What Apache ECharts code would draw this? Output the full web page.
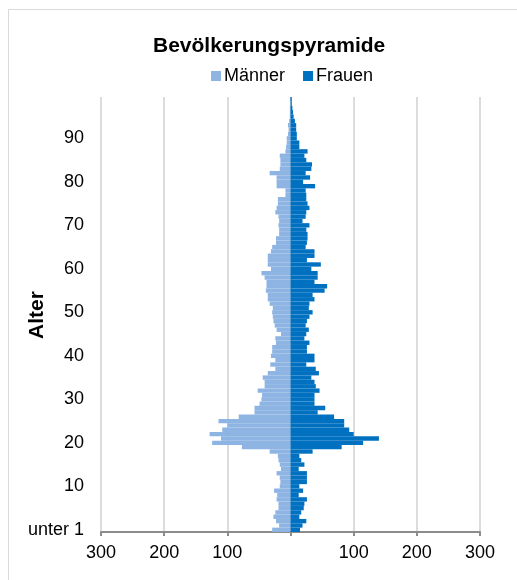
<!DOCTYPE html>
<html lang="de">
<head>
    <meta charset="UTF-8">
    <title>Bevölkerungspyramide</title>
    <script src="https://cdn.jsdelivr.net/npm/echarts@6/dist/echarts.min.js"></script>
    <style>
        html, body { margin: 0; padding: 0; background: #fff; }
        #chart { width: 517px; height: 580px; }
    </style>
</head>
<body>
<div id="chart"></div>
<script>
    // Alter 0..99 (Index = Alter)
    var maenner = [29, 18, 23, 27, 24, 19, 19, 22, 21, 26,
                   17, 16, 17, 22, 15, 17, 19, 20, 33, 77,
                   124, 110, 128, 108, 100, 114, 82, 57, 57, 49,
                   46, 45, 52, 41, 41, 44, 36, 24, 32, 24,
                   31, 29, 29, 23, 24, 15, 22, 25, 27, 28,
                   29, 28, 33, 36, 36, 39, 38, 38, 41, 46,
                   31, 36, 36, 36, 31, 29, 23, 23, 18, 18,
                   19, 18, 19, 24, 22, 20, 20, 8, 8, 22,
                   22, 22, 33, 17, 16, 16, 17, 8, 7, 6,
                   6, 4, 3, 4, 2, 1, 1, 1, 0, 1];
    var frauen = [15, 19, 25, 14, 17, 21, 22, 26, 13, 20,
                  14, 26, 26, 26, 13, 22, 17, 14, 35, 81,
                  115, 140, 100, 93, 85, 85, 69, 43, 55, 38,
                  38, 38, 46, 40, 38, 33, 45, 40, 25, 38,
                  38, 26, 26, 30, 22, 25, 29, 24, 26, 30,
                  35, 29, 30, 38, 35, 54, 58, 38, 43, 43,
                  33, 48, 26, 38, 38, 24, 26, 27, 27, 25,
                  30, 19, 24, 25, 30, 27, 25, 25, 24, 39,
                  20, 31, 24, 33, 34, 25, 22, 27, 14, 14,
                  10, 10, 9, 9, 7, 5, 4, 3, 2, 2];
    var alter = [];
    for (var i = 0; i < maenner.length; i++) {
        alter.push(i === 0 ? 'unter 1' : String(i));
    }
    var xTicks = [-300, -200, -100, 0, 100, 200, 300];

    var myChart = echarts.init(document.getElementById('chart'));
    var option = {
        backgroundColor: '#fff',
        animation: false,
        textStyle: { fontFamily: 'Liberation Sans, Arial, sans-serif' },
        graphic: [{
            type: 'rect',
            shape: { x: 8.5, y: 9.5, width: 530, height: 600 },
            style: { fill: 'none', stroke: '#d9d9d9', lineWidth: 1 }
        }, {
            // Achsentitel links, gedreht
            type: 'text',
            x: 37,
            y: 315,
            rotation: Math.PI / 2,
            style: {
                text: 'Alter',
                fontSize: 21,
                fontWeight: 'bold',
                fontFamily: 'Liberation Sans, Arial, sans-serif',
                fill: '#000',
                align: 'center',
                verticalAlign: 'middle'
            }
        }],
        title: {
            text: 'Bevölkerungspyramide',
            left: 148,
            top: 31,
            textStyle: { fontSize: 21, fontWeight: 'bold', color: '#000' }
        },
        legend: {
            left: 206,
            top: 62,
            itemWidth: 10,
            itemHeight: 10,
            itemGap: 18,
            icon: 'rect',
            textStyle: { fontSize: 18, color: '#000', padding: [0, 0, 0, -2] },
            data: ['Männer', 'Frauen']
        },
        grid: { left: 101, right: 37, top: 97, bottom: 48, containLabel: false, outerBoundsMode: 'none' },
        xAxis: {
            type: 'value',
            min: -300,
            max: 300,
            interval: 100,
            axisLine: { show: true, onZero: false, lineStyle: { color: '#8c8c8c', width: 2 } },
            axisTick: { show: true, length: 4, lineStyle: { color: '#8c8c8c', width: 2 } },
            splitLine: { show: true, lineStyle: { color: '#dcdcdc', width: 2 } },
            axisLabel: {
                fontSize: 18,
                color: '#000',
                margin: 12,
                formatter: function (v) {
                    if (xTicks.indexOf(v) < 0 || v === 0) return '';
                    return String(Math.abs(v));
                }
            }
        },
        yAxis: {
            type: 'category',
            data: alter,
            axisLine: { show: false },
            axisTick: { show: false },
            splitLine: { show: false },
            axisLabel: { interval: 9, fontSize: 18, color: '#000', margin: 17 }
        },
        series: [
            {
                name: 'Männer',
                type: 'bar',
                stack: 'pyramide',
                barCategoryGap: '0%',
                itemStyle: { color: '#8db4e2' },
                data: maenner.map(function (v) { return -v; })
            },
            {
                name: 'Frauen',
                type: 'bar',
                stack: 'pyramide',
                barCategoryGap: '0%',
                itemStyle: { color: '#0070c0' },
                data: frauen
            }
        ]
    };
    myChart.setOption(option);
</script>
</body>
</html>
